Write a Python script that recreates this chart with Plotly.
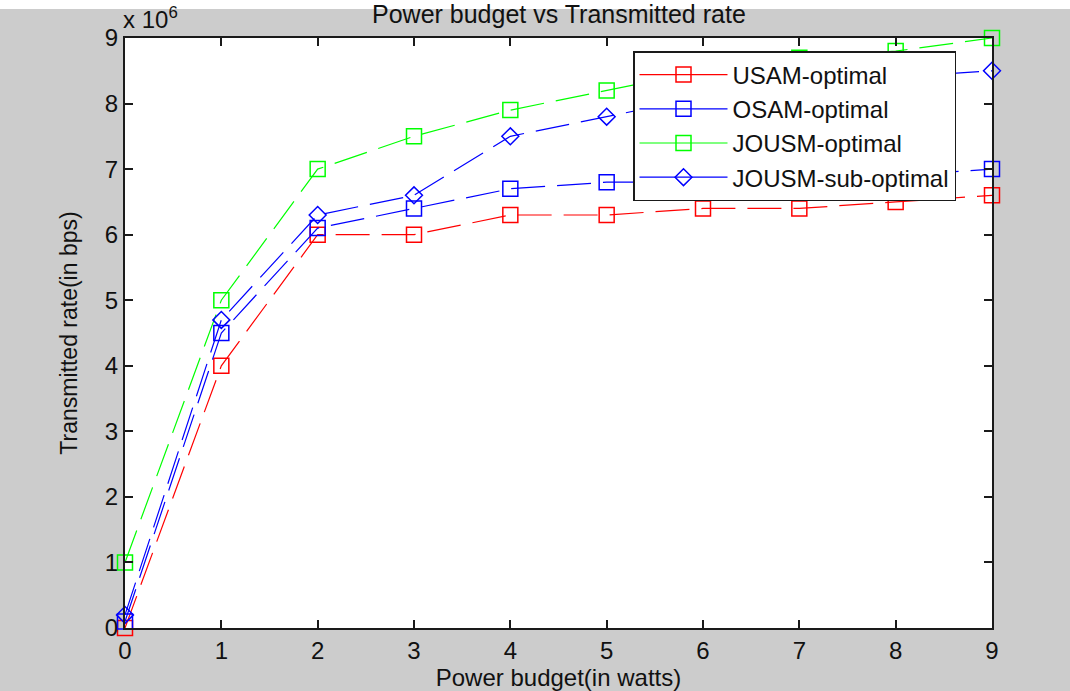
import plotly.graph_objects as go

# ---- data ----
power = [0, 1, 2, 3, 4, 5, 6, 7, 8, 9]
usam_opt = [0.0, 4.0, 6.0, 6.0, 6.3, 6.3, 6.4, 6.4, 6.5, 6.6]
osam_opt = [0.1, 4.5, 6.1, 6.4, 6.7, 6.8, 6.8, 6.8, 6.9, 7.0]
jousm_opt = [1.0, 5.0, 7.0, 7.5, 7.9, 8.2, 8.5, 8.7, 8.8, 9.0]
jousm_sub = [0.2, 4.7, 6.3, 6.6, 7.5, 7.8, 8.1, 8.3, 8.4, 8.5]

series_names = ["USAM-optimal", "OSAM-optimal", "JOUSM-optimal", "JOUSM-sub-optimal"]
series_values = [usam_opt, osam_opt, jousm_opt, jousm_sub]
series_colors = ["#ff0000", "#0000ff", "#00ff00", "#0000ff"]
series_symbols = ["square-open", "square-open", "square-open", "diamond-open"]
series_sizes = [15, 15, 15, 13]

x_ticks = list(range(0, 10))
y_ticks = list(range(0, 10))

title_text = "Power budget vs Transmitted rate"
exp_text = "x 10<sup>6</sup>"
x_title = "Power budget(in watts)"
y_title = "Transmitted rate(in bps)"

FONT = "Liberation Sans, Arial, sans-serif"
W, H = 1070, 691
ML, MR, MT, MB = 125, 78, 38, 63
PW = W - ML - MR
PH = H - MT - MB

fig = go.Figure()

for name, vals, col, sym, sz in zip(series_names, series_values, series_colors,
                                    series_symbols, series_sizes):
    fig.add_trace(go.Scatter(
        x=power, y=vals, mode="lines+markers", name=name, showlegend=False,
        line=dict(color=col, width=1.2, dash="34px,12px"),
        marker=dict(symbol=sym, size=sz, color=col, line=dict(color=col, width=1.5)),
        cliponaxis=False,
    ))

# legend entries (solid samples as in the reference legend)
for name, col, sym, sz in zip(series_names, series_colors, series_symbols, series_sizes):
    fig.add_trace(go.Scatter(
        x=[None], y=[None], mode="lines+markers", name=name,
        line=dict(color=col, width=1.2),
        marker=dict(symbol=sym, size=sz, color=col, line=dict(color=col, width=1.5)),
    ))

axis_common = dict(
    showline=True, linecolor="#1a1a1a", linewidth=2, mirror="ticks",
    ticks="inside", ticklen=8, tickwidth=1.5, tickcolor="#1a1a1a",
    showgrid=False, zeroline=False, automargin=False,
    tickfont=dict(family=FONT, size=24, color="#111"),
)

fig.update_layout(
    width=W, height=H,
    margin=dict(l=ML, r=MR, t=MT, b=MB),
    paper_bgcolor="#cccccc", plot_bgcolor="#ffffff",
    font=dict(family=FONT, size=24, color="#111"),
    xaxis=dict(range=[0, 9], tickvals=x_ticks, ticktext=[str(v) for v in x_ticks],
               title=dict(text=x_title, standoff=4, font=dict(family=FONT, size=24)),
               **axis_common),
    yaxis=dict(range=[0, 9], tickvals=y_ticks, ticktext=[str(v) for v in y_ticks],
               title=dict(text=y_title, standoff=21, font=dict(family=FONT, size=23)),
               **axis_common),
    legend=dict(
        x=(633 - ML) / PW, y=(H - MB - 51) / PH, xanchor="left", yanchor="top",
        bgcolor="#ffffff", bordercolor="#1a1a1a", borderwidth=1.5,
        font=dict(family=FONT, size=24, color="#111"),
        itemwidth=88, tracegroupgap=0,
    ),
    shapes=[dict(type="rect", xref="paper", yref="paper", layer="below",
                 x0=-ML / PW, x1=1 + MR / PW, y0=1 + (MT - 9) / PH, y1=1 + MT / PH,
                 fillcolor="#ffffff", line=dict(width=0))],
    annotations=[
        dict(text=title_text, xref="paper", yref="paper", x=0.5, y=1,
             xanchor="center", yanchor="bottom", yshift=8, showarrow=False,
             font=dict(family=FONT, size=25, color="#111")),
        dict(text=exp_text, xref="paper", yref="paper", x=0, y=1,
             xanchor="left", yanchor="bottom", xshift=-4, yshift=3, showarrow=False,
             font=dict(family=FONT, size=24, color="#111")),
    ],
)

fig.write_html("out.html")
